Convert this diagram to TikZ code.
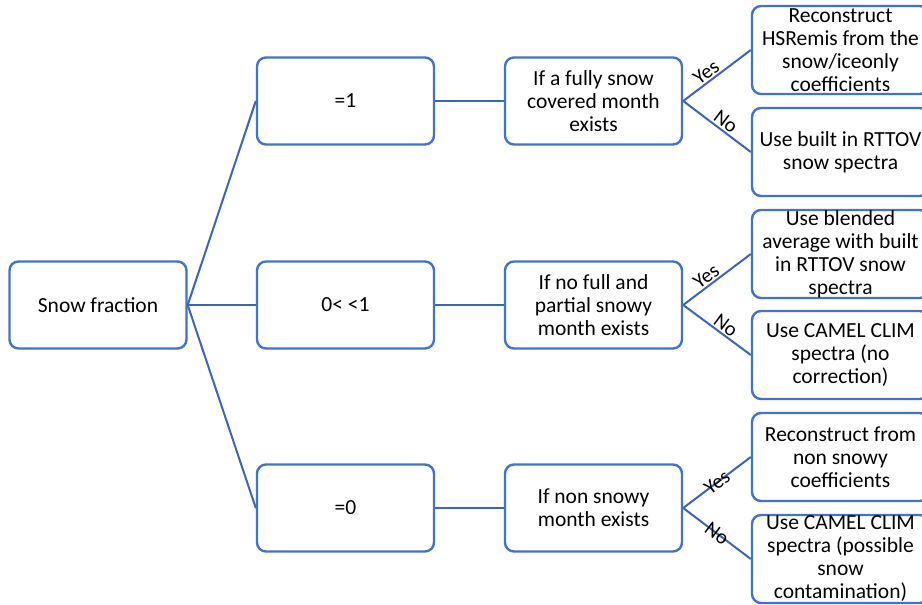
\documentclass[tikz,border=0pt]{standalone}
\usepackage{fontspec}
\setmainfont{Carlito}
\definecolor{boxblue}{HTML}{4472C4}
\definecolor{lineblue}{HTML}{3F65B0}
\begin{document}
\begin{tikzpicture}[x=1pt,y=-1pt,
  box/.style={draw=boxblue,line width=2.4pt,rounded corners=9pt,fill=white,
    minimum width=177pt,minimum height=87pt,inner sep=0pt,align=center,
    font=\fontsize{21.5}{23}\selectfont},
  rbox/.style={box,minimum height=88pt},
  conn/.style={draw=lineblue,line width=2pt},
  lbl/.style={font=\fontsize{20.5}{22}\selectfont,sloped,inner sep=1.5pt}]
\useasboundingbox (0,0) rectangle (922,605);
\clip (0,0) rectangle (922,605);
\fill[white] (0,0) rectangle (922,605);
% nodes
\node[box] (sf) at (98,305) {Snow fraction};
\node[box] (m1) at (345.5,101) {=1};
\node[box] (m2) at (345.5,305) {0< <1};
\node[box] (m3) at (345.5,508) {=0};
\node[box] (c1) at (593.5,101) {If a fully snow\\covered month\\exists};
\node[box] (c2) at (593.5,305) {If no full and\\partial snowy\\month exists};
\node[box] (c3) at (593.5,508) {If non snowy\\month exists};
\node[rbox] (r1) at (840.5,50) {Reconstruct\\HSRemis from the\\snow/iceonly\\coefficients};
\node[rbox] (r2) at (840.5,152) {Use built in RTTOV\\snow spectra};
\node[rbox] (r3) at (840.5,254) {Use blended\\average with built\\in RTTOV snow\\spectra};
\node[rbox] (r4) at (840.5,355) {Use CAMEL CLIM\\spectra (no\\correction)};
\node[rbox] (r5) at (840.5,457) {Reconstruct from\\non snowy\\coefficients};
\node[rbox] (r6) at (840.5,559) {Use CAMEL CLIM\\spectra (possible\\snow\\contamination)};
% connectors
\draw[conn] (sf.east) -- (m1.west);
\draw[conn] (sf.east) -- (m2.west);
\draw[conn] (sf.east) -- (m3.west);
\draw[conn] (m1.east) -- (c1.west);
\draw[conn] (m2.east) -- (c2.west);
\draw[conn] (m3.east) -- (c3.west);
\draw[conn] (c1.east) -- node[lbl,above,pos=0.42] {Yes} (r1.west);
\draw[conn] (c1.east) -- node[lbl,above,pos=0.55] {No} (r2.west);
\draw[conn] (c2.east) -- node[lbl,above,pos=0.42] {Yes} (r3.west);
\draw[conn] (c2.east) -- node[lbl,above,pos=0.55] {No} (r4.west);
\draw[conn] (c3.east) -- node[lbl,pos=0.5] {Yes} (r5.west);
\draw[conn] (c3.east) -- node[lbl,pos=0.5] {No} (r6.west);
\end{tikzpicture}
\end{document}
